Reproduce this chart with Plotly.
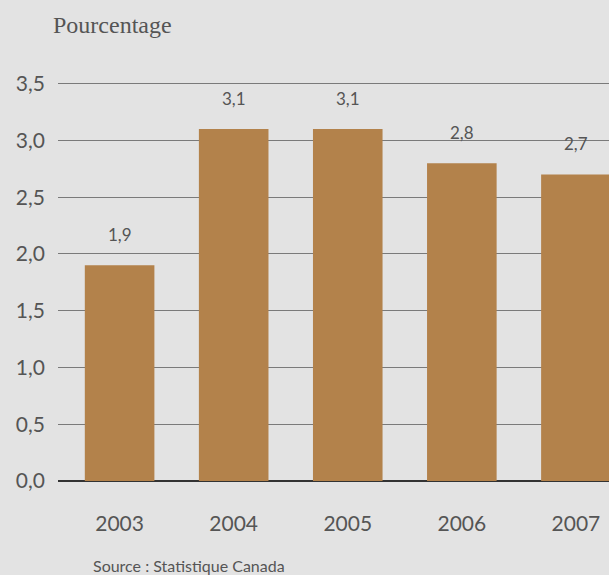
import plotly.graph_objects as go

years = ["2003", "2004", "2005", "2006", "2007"]
values = [1.9, 3.1, 3.1, 2.8, 2.7]
value_labels = ["1,9", "3,1", "3,1", "2,8", "2,7"]
y_ticks = [0, 0.5, 1.0, 1.5, 2.0, 2.5, 3.0, 3.5]
y_tick_labels = ["0,0", "0,5", "1,0", "1,5", "2,0", "2,5", "3,0", "3,5"]

bg = "#e3e3e3"
bar_color = "#b3824b"
text_color = "#555555"

fig = go.Figure()
fig.add_trace(go.Bar(
    x=years, y=values, marker=dict(color=bar_color, line=dict(width=0)),
    width=0.61, hoverinfo="skip",
))

for i, (v, lab) in enumerate(zip(values, value_labels)):
    fig.add_annotation(x=i, y=v, text=lab, showarrow=False, yanchor="bottom",
                       yshift=18, font=dict(family="Lato", size=17, color=text_color))

fig.add_annotation(xref="paper", yref="paper", x=-0.012, y=1.0, yshift=53,
                   xanchor="left", yanchor="middle", showarrow=False,
                   text="Pourcentage",
                   font=dict(family="Liberation Serif", size=24, color=text_color))
fig.add_annotation(xref="paper", yref="paper", x=0.06, y=0, yshift=-84,
                   xanchor="left", yanchor="middle", showarrow=False,
                   text="Source : Statistique Canada",
                   font=dict(family="Lato", size=16, color=text_color))

fig.update_layout(
    width=609, height=575,
    margin=dict(l=58, r=0, t=78, b=94),
    paper_bgcolor=bg, plot_bgcolor=bg,
    showlegend=False,
    xaxis=dict(
        type="category", range=[-0.54, 4.29],
        showgrid=False, zeroline=False, showline=False,
        ticks="", ticklabelstandoff=28,
        tickfont=dict(family="Lato", size=21, color=text_color),
        fixedrange=True,
    ),
    yaxis=dict(
        range=[0, 3.55], tickvals=y_ticks, ticktext=y_tick_labels,
        showgrid=True, gridcolor="#7a7a7a", gridwidth=1,
        zeroline=True, zerolinecolor="#333333", zerolinewidth=2,
        showline=False, ticks="", ticklabelstandoff=12,
        tickfont=dict(family="Lato", size=21, color=text_color),
        fixedrange=True,
    ),
)

fig.write_html("out.html", config={"displayModeBar": False},
               post_script="document.body.style.margin='0';document.body.style.background='#e3e3e3';")
